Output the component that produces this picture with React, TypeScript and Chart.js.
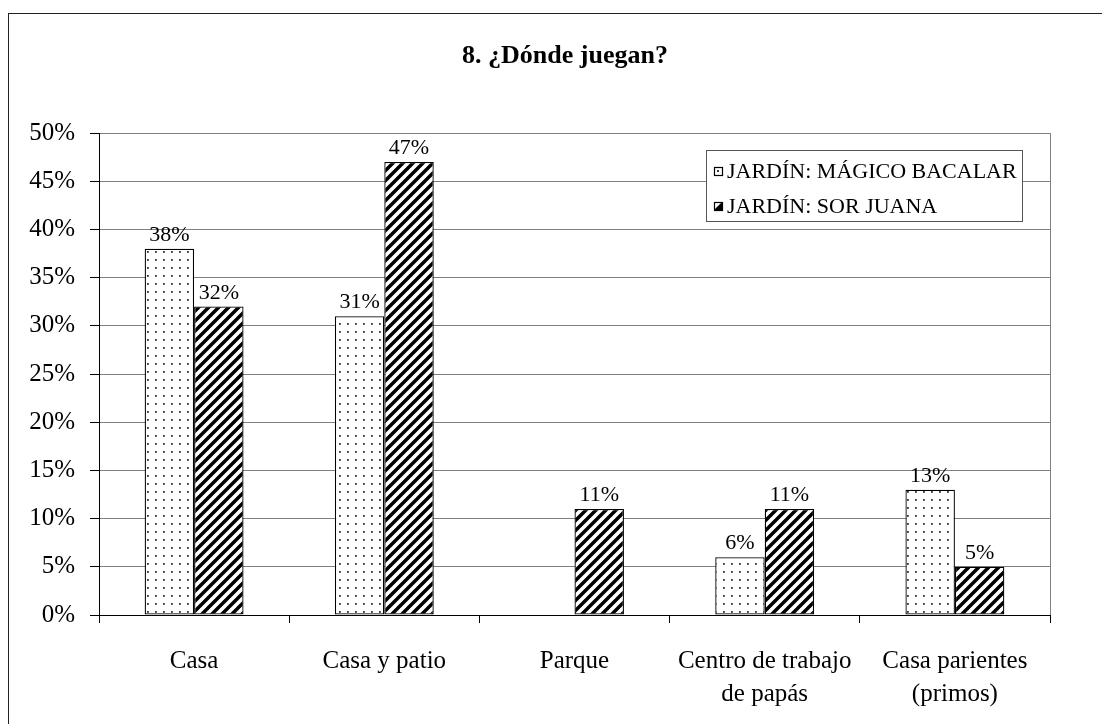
import React, { useEffect, useRef } from "react";
import { Chart, registerables } from "chart.js";

Chart.register(...registerables);

const categories: (string | string[])[] = [
  "Casa",
  "Casa y patio",
  "Parque",
  ["Centro de trabajo", "de papás"],
  ["Casa parientes", "(primos)"],
];
const seriesNames = ["JARDÍN: MÁGICO BACALAR", "JARDÍN: SOR JUANA"];
const magicoValues = [38, 31, 0, 6, 13];
const sorJuanaValues = [32, 47, 11, 11, 5];
const yTicksMax = 50;
const yTicksStep = 5;
const titleText = "8. ¿Dónde juegan?";

const FONT = "'Liberation Serif', 'Times New Roman', serif";

function makeDotPattern(): CanvasPattern | string {
  const c = document.createElement("canvas");
  c.width = 8;
  c.height = 8;
  const ctx = c.getContext("2d");
  if (!ctx) return "#fff";
  ctx.fillStyle = "#fff";
  ctx.fillRect(0, 0, 8, 8);
  ctx.fillStyle = "#333";
  ctx.fillRect(3, 3, 1.8, 1.8);
  return ctx.createPattern(c, "repeat") || "#fff";
}

function makeHatchPattern(): CanvasPattern | string {
  const s = 10;
  const c = document.createElement("canvas");
  c.width = s;
  c.height = s;
  const ctx = c.getContext("2d");
  if (!ctx) return "#000";
  ctx.fillStyle = "#fff";
  ctx.fillRect(0, 0, s, s);
  ctx.strokeStyle = "#000";
  ctx.lineWidth = 3.5;
  ctx.beginPath();
  for (let k = -1; k <= 1; k++) {
    ctx.moveTo(k * s - 1, s + 1);
    ctx.lineTo(k * s + s + 1, -1);
  }
  ctx.stroke();
  return ctx.createPattern(c, "repeat") || "#000";
}

export default function App() {
  const ref = useRef<HTMLCanvasElement | null>(null);

  useEffect(() => {
    if (!ref.current) return;
    const dots = makeDotPattern();
    const hatch = makeHatchPattern();

    const decor = {
      id: "decor",
      beforeDraw(chart: any) {
        const ctx = chart.ctx;
        ctx.save();
        ctx.fillStyle = "#fff";
        ctx.fillRect(0, 0, chart.width, chart.height);
        ctx.strokeStyle = "#222";
        ctx.lineWidth = 1;
        ctx.strokeRect(0.5, 5.5, chart.width + 20, chart.height + 20);
        ctx.fillStyle = "#000";
        ctx.font = `bold 26px ${FONT}`;
        ctx.textAlign = "center";
        ctx.textBaseline = "alphabetic";
        ctx.fillText(titleText, 557, 55);
        ctx.restore();
      },
      afterDatasetsDraw(chart: any) {
        const ctx = chart.ctx;
        const a = chart.chartArea;
        ctx.save();
        ctx.strokeStyle = "#808080";
        ctx.lineWidth = 1;
        ctx.beginPath();
        ctx.moveTo(Math.round(a.right) + 0.5, a.top);
        ctx.lineTo(Math.round(a.right) + 0.5, a.bottom);
        ctx.stroke();
        ctx.fillStyle = "#000";
        ctx.font = `22px ${FONT}`;
        ctx.textAlign = "center";
        ctx.textBaseline = "alphabetic";
        chart.data.datasets.forEach((ds: any, di: number) => {
          const meta = chart.getDatasetMeta(di);
          meta.data.forEach((bar: any, i: number) => {
            const v = ds.data[i];
            if (!v) return;
            ctx.fillText(v + "%", bar.x, bar.y - 8);
          });
        });
        const lx = 698, ly = 142, lw = 316, lh = 71;
        ctx.fillStyle = "#fff";
        ctx.fillRect(lx, ly, lw, lh);
        ctx.strokeStyle = "#555";
        ctx.lineWidth = 1;
        ctx.strokeRect(lx + 0.5, ly + 0.5, lw, lh);
        const items = [
          { name: seriesNames[0], hatched: false, y: ly + 21 },
          { name: seriesNames[1], hatched: true, y: ly + 56 },
        ];
        ctx.font = `22px ${FONT}`;
        ctx.textAlign = "left";
        ctx.textBaseline = "middle";
        items.forEach((it) => {
          const sx = lx + 8, sy = it.y - 4;
          ctx.fillStyle = "#fff";
          ctx.fillRect(sx, sy, 8, 8);
          if (it.hatched) {
            ctx.fillStyle = "#000";
            ctx.beginPath();
            ctx.moveTo(sx + 8, sy);
            ctx.lineTo(sx + 8, sy + 8);
            ctx.lineTo(sx, sy + 8);
            ctx.closePath();
            ctx.fill();
          } else {
            ctx.fillStyle = "#333";
            ctx.fillRect(sx + 3, sy + 3, 2, 2);
          }
          ctx.strokeStyle = "#000";
          ctx.lineWidth = 1.2;
          ctx.strokeRect(sx + 0.5, sy + 0.5, 8, 8);
          ctx.fillStyle = "#000";
          ctx.fillText(it.name, sx + 13, it.y + 1);
        });
        ctx.restore();
      },
    };

    const chart = new Chart(ref.current, {
      type: "bar",
      data: {
        labels: categories as any,
        datasets: [
          {
            label: seriesNames[0],
            data: magicoValues,
            backgroundColor: dots as any,
            borderColor: "#000",
            borderWidth: 1.3,
            borderSkipped: false,
          },
          {
            label: seriesNames[1],
            data: sorJuanaValues,
            backgroundColor: hatch as any,
            borderColor: "#000",
            borderWidth: 1.3,
            borderSkipped: false,
          },
        ],
      },
      options: {
        animation: false,
        responsive: false,
        maintainAspectRatio: false,
        layout: { padding: { top: 125, right: 60, left: 0, bottom: 0 } },
        datasets: {
          bar: { categoryPercentage: 0.52, barPercentage: 1 },
        },
        plugins: {
          legend: { display: false },
          title: { display: false },
          tooltip: { enabled: false },
        },
        scales: {
          x: {
            afterFit(scale: any) {
              scale.height = 109;
            },
            grid: {
              offset: true,
              drawOnChartArea: false,
              drawTicks: true,
              tickLength: 8,
              tickColor: "#000",
            },
            border: { color: "#000", width: 1 },
            ticks: {
              color: "#000",
              font: { family: FONT, size: 25, lineHeight: 1.32 },
              padding: 22,
              maxRotation: 0,
              autoSkip: false,
            },
          },
          y: {
            min: 0,
            max: yTicksMax,
            afterFit(scale: any) {
              scale.width = 91;
            },
            grid: {
              color: "#808080",
              lineWidth: 1,
              tickLength: 9,
              tickColor: "#000",
            },
            border: { color: "#000", width: 1 },
            ticks: {
              stepSize: yTicksStep,
              color: "#000",
              font: { family: FONT, size: 25 },
              padding: 15,
              callback: (v: any) => v + "%",
            },
          },
        },
      },
      plugins: [decor],
    });
    return () => chart.destroy();
  }, []);

  return (
    <canvas
      ref={ref}
      width={1102}
      height={716}
      style={{ display: "block", width: 1102, height: 716 }}
    />
  );
}
